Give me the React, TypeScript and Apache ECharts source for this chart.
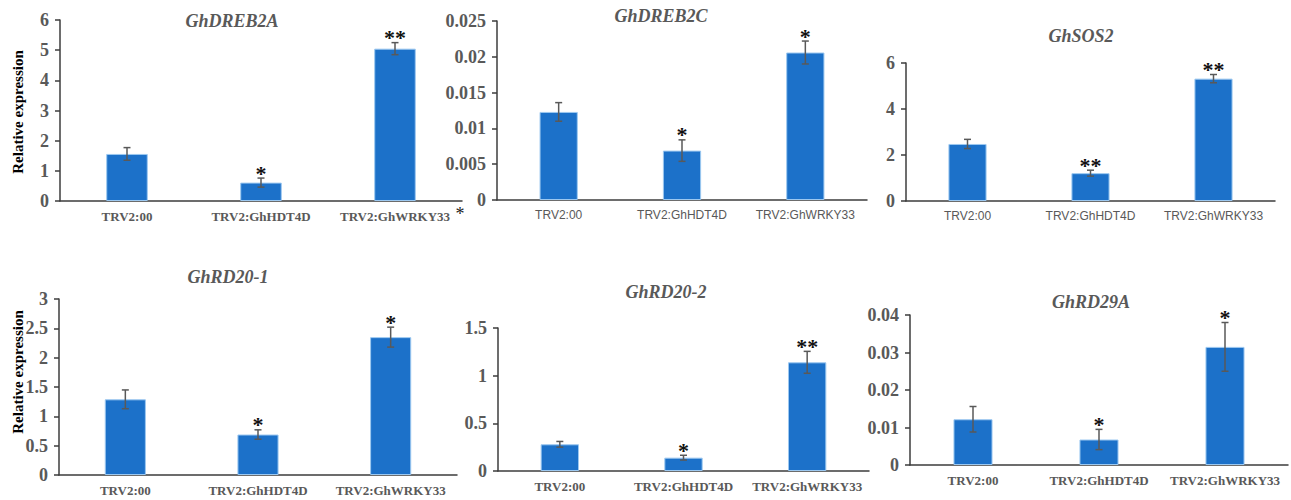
import React, { useEffect, useRef } from "react";
import * as echarts from "echarts";

const categories = ["TRV2:00", "TRV2:GhHDT4D", "TRV2:GhWRKY33"];
const genes = ["GhDREB2A", "GhDREB2C", "GhSOS2", "GhRD20-1", "GhRD20-2", "GhRD29A"];

const dreb2aMean = [1.56, 0.61, 5.05];
const dreb2aErr = [0.21, 0.15, 0.2];
const dreb2aSig = ["", "*", "**"];

const dreb2cMean = [0.0123, 0.0069, 0.0206];
const dreb2cErr = [0.0013, 0.0015, 0.0016];
const dreb2cSig = ["", "*", "*"];

const sos2Mean = [2.48, 1.21, 5.32];
const sos2Err = [0.2, 0.13, 0.18];
const sos2Sig = ["", "**", "**"];

const rd201Mean = [1.29, 0.69, 2.35];
const rd201Err = [0.16, 0.08, 0.17];
const rd201Sig = ["", "*", "*"];

const rd202Mean = [0.28, 0.14, 1.14];
const rd202Err = [0.03, 0.025, 0.115];
const rd202Sig = ["", "*", "**"];

const rd29aMean = [0.0122, 0.0068, 0.0315];
const rd29aErr = [0.0034, 0.0027, 0.0065];
const rd29aSig = ["", "*", "*"];

const yMax = [6, 0.025, 6, 3, 1.5, 0.04];
const yStep = [1, 0.005, 2, 0.5, 0.5, 0.01];

const means = [dreb2aMean, dreb2cMean, sos2Mean, rd201Mean, rd202Mean, rd29aMean];
const errs = [dreb2aErr, dreb2cErr, sos2Err, rd201Err, rd202Err, rd29aErr];
const sigs = [dreb2aSig, dreb2cSig, sos2Sig, rd201Sig, rd202Sig, rd29aSig];

// layout
const grids = [
  { left: 60, top: 20, width: 402, height: 181 },
  { left: 497, top: 21, width: 370, height: 179 },
  { left: 906, top: 63, width: 369, height: 138 },
  { left: 59, top: 299, width: 398, height: 176 },
  { left: 498, top: 328, width: 371, height: 143 },
  { left: 910, top: 315, width: 378, height: 150 },
];
const titlePos = [
  [232, 21], [661, 16], [1081, 36], [228, 277], [666, 292], [1091, 302],
];
const sansX = [false, true, true, false, false, false];

const SERIF = "'Liberation Serif', 'Times New Roman', serif";
const SANS = "'Liberation Sans', Arial, sans-serif";
const GRAY = "#595959";
const AXIS = "#3c3c3c";

export default function App() {
  const ref = useRef<HTMLDivElement>(null);
  useEffect(() => {
    if (!ref.current) return;
    const chart = echarts.init(ref.current, null, { renderer: "svg" });
    const xAxis: any[] = [];
    const yAxis: any[] = [];
    const series: any[] = [];
    grids.forEach((g, i) => {
      xAxis.push({
        type: "category",
        gridIndex: i,
        data: categories,
        axisLine: { lineStyle: { color: AXIS, width: 1.5 } },
        axisTick: { show: false },
        axisLabel: sansX[i]
          ? { interval: 0, color: GRAY, fontFamily: SANS, fontSize: 12, margin: 9 }
          : { interval: 0, color: GRAY, fontFamily: SERIF, fontWeight: "bold", fontSize: 13, margin: 9 },
      });
      yAxis.push({
        type: "value",
        gridIndex: i,
        min: 0,
        max: yMax[i],
        interval: yStep[i],
        splitLine: { show: false },
        axisLine: { show: true, lineStyle: { color: AXIS, width: 1.5 } },
        axisTick: { show: true, length: 5, lineStyle: { color: AXIS, width: 1.5 } },
        axisLabel: { color: GRAY, fontFamily: SERIF, fontWeight: "bold", fontSize: 18, margin: 11 },
      });
      series.push({
        type: "bar",
        xAxisIndex: i,
        yAxisIndex: i,
        data: means[i],
        barWidth: "31%",
        itemStyle: { color: "#1c71c9", borderColor: "#9cc8f0", borderWidth: 1 },
      });
      const sg = sigs[i];
      series.push({
        type: "custom",
        xAxisIndex: i,
        yAxisIndex: i,
        clip: false,
        z: 5,
        data: means[i].map((m, k) => [k, m, errs[i][k]]),
        encode: { x: 0, y: 1 },
        renderItem: (params: any, api: any) => {
          const idx = api.value(0);
          const m = api.value(1);
          const e = api.value(2);
          const top = api.coord([idx, m + e]);
          const bot = api.coord([idx, m - e]);
          const x = top[0];
          const st = { stroke: GRAY, lineWidth: 1.5 };
          const children: any[] = [
            { type: "line", shape: { x1: x, y1: top[1], x2: x, y2: bot[1] }, style: st },
            { type: "line", shape: { x1: x - 3.5, y1: top[1], x2: x + 3.5, y2: top[1] }, style: st },
            { type: "line", shape: { x1: x - 3.5, y1: bot[1], x2: x + 3.5, y2: bot[1] }, style: st },
          ];
          const s = sg[params.dataIndex];
          if (s) {
            children.push({
              type: "text",
              style: {
                text: s,
                x,
                y: top[1] + 6,
                textAlign: "center",
                textVerticalAlign: "bottom",
                fontSize: 22,
                fontFamily: SERIF,
                fontWeight: "bold",
                fill: "#111",
              },
            });
          }
          return { type: "group", children };
        },
      });
    });
    const titleGraphics = genes.map((gname, i) => ({
      type: "text",
      x: titlePos[i][0],
      y: titlePos[i][1],
      style: {
        text: gname,
        textAlign: "center",
        textVerticalAlign: "middle",
        fontSize: 18,
        fontFamily: SERIF,
        fontWeight: "bold",
        fontStyle: "italic",
        fill: GRAY,
      },
    }));
    const yNames = [112, 372].map((cy) => ({
      type: "text",
      x: 18,
      y: cy,
      rotation: Math.PI / 2,
      style: {
        text: "Relative expression",
        textAlign: "center",
        textVerticalAlign: "middle",
        fontSize: 15,
        fontFamily: SERIF,
        fontWeight: "bold",
        fill: "#000",
      },
    }));
    const stray = {
      type: "text",
      x: 460,
      y: 214,
      style: {
        text: "*",
        textAlign: "center",
        textVerticalAlign: "middle",
        fontSize: 18,
        fontFamily: SERIF,
        fill: "#222",
      },
    };
    chart.setOption({
      animation: false,
      backgroundColor: "#fff",
      grid: grids.map((g) => ({ ...g, containLabel: false })),
      xAxis,
      yAxis,
      series,
      graphic: [...titleGraphics, ...yNames, stray],
    });
    return () => chart.dispose();
  }, []);
  return (
    <div
      ref={ref}
      style={{ position: "absolute", left: 0, top: 0, width: 1291, height: 500 }}
    />
  );
}
